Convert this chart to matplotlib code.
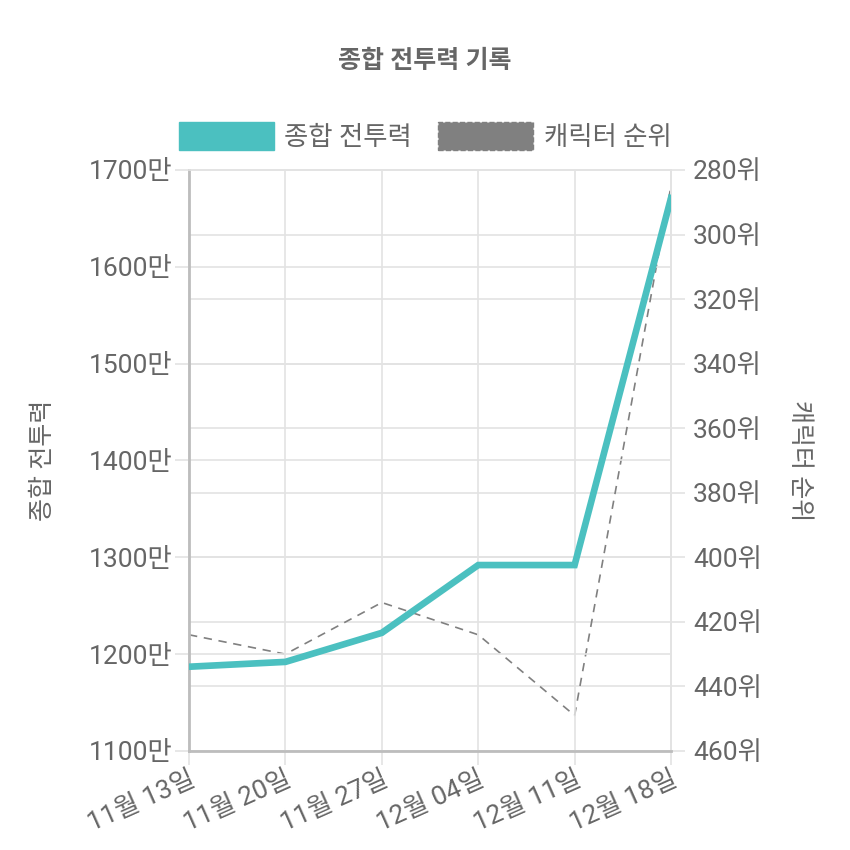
import matplotlib.pyplot as plt
from matplotlib.patches import Patch

plt.rcParams['font.family'] = ['Roboto', 'Noto Sans CJK KR', 'DejaVu Sans']

dates = ['11월 13일', '11월 20일', '11월 27일', '12월 04일', '12월 11일', '12월 18일']
power = [1187, 1192, 1222, 1292, 1292, 1671]   # 단위: 만
rank = [424, 430, 414, 424, 449, 285]

left_ticks = [1100, 1200, 1300, 1400, 1500, 1600, 1700]
right_ticks = [280, 300, 320, 340, 360, 380, 400, 420, 440, 460]

teal = '#4bc0c0'
gray = '#808080'
txt = '#666666'
grid = '#e3e3e3'

fig = plt.figure(figsize=(8.5, 8.5), dpi=100)
ax = fig.add_axes([0.2224, 0.1165, 0.567, 0.6835])
ax2 = ax.twinx()

x = list(range(len(dates)))
ax.plot(x, power, color=teal, lw=4.8, solid_joinstyle='miter', zorder=3)
ax2.plot(x, rank, color=gray, lw=1.2, dashes=(5, 4), zorder=2)

ax.set_xlim(0, len(dates) - 1)
ax.set_ylim(1100, 1700)
ax2.set_ylim(460, 280)

ax.set_yticks(left_ticks)
ax.set_yticklabels([f'{v}만' for v in left_ticks])
ax2.set_yticks(right_ticks)
ax2.set_yticklabels([f'{v}위' for v in right_ticks])
ax.set_xticks(x)
ax.set_xticklabels(dates, rotation=24, ha='right', rotation_mode='anchor')

ax.grid(True, color=grid, lw=1.2)
ax2.grid(True, axis='y', color=grid, lw=1.2)
ax.set_zorder(ax2.get_zorder() + 1)
ax.patch.set_visible(False)

for a in (ax, ax2):
    a.tick_params(colors=txt, labelsize=19, length=10, width=1.2, pad=2)
    a.tick_params(color=grid)
    for s in a.spines.values():
        s.set_color(grid)
        s.set_linewidth(1.2)
ax2.tick_params(pad=6)
ax.spines['left'].set_color('#bdbdbd')
ax.spines['bottom'].set_color('#bdbdbd')
ax.spines['left'].set_linewidth(2)
ax.spines['bottom'].set_linewidth(2)

ax.set_ylabel('종합 전투력', color=txt, fontsize=18, labelpad=24)
ax2.set_ylabel('캐릭터 순위', color=txt, fontsize=18, rotation=-90, labelpad=36)

fig.text(0.5, 0.928, '종합 전투력 기록', ha='center', va='center',
         fontsize=18, fontweight='bold', color=txt)

handles = [Patch(facecolor=teal, edgecolor=teal),
           Patch(facecolor=gray, edgecolor=gray, linestyle='--')]
fig.legend(handles, ['종합 전투력', '캐릭터 순위'], loc='center',
           bbox_to_anchor=(0.5, 0.84), ncol=2, frameon=False,
           fontsize=19, labelcolor=txt, handlelength=3.6, handleheight=1.3,
           columnspacing=1.0, handletextpad=0.4)

fig.savefig('out.png')
